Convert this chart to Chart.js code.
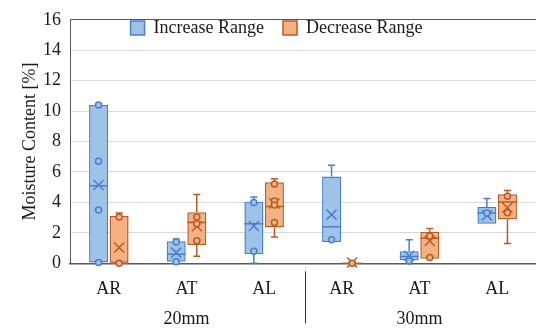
<!DOCTYPE html>
<html>
<head>
<meta charset="utf-8">
<script src="https://cdn.jsdelivr.net/npm/chart.js@4/dist/chart.umd.min.js"></script>
<style>
  html, body { margin: 0; padding: 0; background: #fff; }
  canvas { display: block; }
</style>
</head>
<body>
<canvas id="boxChart" width="536" height="328"></canvas>
<script>
// Categories and groups
const categories = ["AR", "AT", "AL", "AR", "AT", "AL"];
const groups = ["20mm", "30mm"];

// Increase range statistics per category
const incMin    = [0.05, 0.1, 0.0, 1.4, 0.15, 2.6];
const incQ1     = [0.05, 0.1, 0.6, 1.4, 0.2, 2.6];
const incMedian = [5.1, 0.6, 2.6, 2.4, 0.45, 3.3];
const incQ3     = [10.4, 1.45, 4.05, 5.7, 0.8, 3.7];
const incMax    = [10.4, 1.6, 4.35, 6.45, 1.55, 4.26];
const incMean   = [5.15, 0.7, 2.45, 3.2, 0.5, 3.15];
const incPoints = [[10.4, 6.7, 3.5, 0.05], [1.4, 0.1], [4.0, 0.8], [1.55], [0.15], [3.3]];

// Decrease range statistics per category
const decMin    = [0.0, 0.47, 1.72, 0.0, 0.35, 1.3];
const decQ1     = [0.0, 1.2, 2.36, 0.0, 0.3, 2.9];
const decMedian = [0.0, 2.68, 3.73, 0.0, 1.65, 4.02];
const decQ3     = [3.1, 3.36, 5.32, 0.04, 2.08, 4.54];
const decMax    = [3.3, 4.52, 5.56, 0.1, 2.28, 4.78];
const decMean   = [1.04, 2.44, 3.93, 0.05, 1.46, 3.65];
const decPoints = [[3.05, 0.0], [3.05, 2.6, 1.48], [5.21, 4.1, 3.83, 2.68], [0.0], [1.8, 0.38], [4.4, 3.32]];

const serif = "'Liberation Serif', 'DejaVu Serif', serif";
const textColor = "#1a1a1a";
const axisColor = "#595959";

function makeDataset(label, q1, q3, stats, fill, stroke) {
  return {
    label: label,
    data: q1.map((v, i) => [v, q3[i]]),
    backgroundColor: fill,
    borderColor: stroke,
    borderWidth: 1.5,
    borderSkipped: false,
    stats: stats,
  };
}

// Whiskers, medians, means and points on top of the floating bars
const boxExtras = {
  id: "boxExtras",
  afterDatasetsDraw(chart) {
    const ctx = chart.ctx;
    const y = chart.scales.y;
    chart.data.datasets.forEach((ds, di) => {
      const meta = chart.getDatasetMeta(di);
      const s = ds.stats;
      meta.data.forEach((bar, j) => {
        const cx = bar.x;
        const half = bar.width / 2;
        const yMin = y.getPixelForValue(s.min[j]);
        const yQ1 = y.getPixelForValue(s.q1[j]);
        const yQ3 = y.getPixelForValue(s.q3[j]);
        const yMax = y.getPixelForValue(s.max[j]);
        const yMed = y.getPixelForValue(s.median[j]);
        const yMean = y.getPixelForValue(s.mean[j]);
        ctx.save();
        ctx.strokeStyle = ds.borderColor;
        ctx.lineWidth = 1.5;
        ctx.beginPath();
        if (yMax < yQ3 - 0.5) {
          ctx.moveTo(cx, yQ3); ctx.lineTo(cx, yMax);
          ctx.moveTo(cx - 3.5, yMax); ctx.lineTo(cx + 3.5, yMax);
        }
        if (yMin > yQ1 + 0.5) {
          ctx.moveTo(cx, yQ1); ctx.lineTo(cx, yMin);
          ctx.moveTo(cx - 3.5, yMin); ctx.lineTo(cx + 3.5, yMin);
        }
        // median
        ctx.moveTo(cx - half, yMed); ctx.lineTo(cx + half, yMed);
        // mean marker
        ctx.moveTo(cx - 5, yMean - 5); ctx.lineTo(cx + 5, yMean + 5);
        ctx.moveTo(cx + 5, yMean - 5); ctx.lineTo(cx - 5, yMean + 5);
        ctx.stroke();
        // data points
        ctx.fillStyle = ds.backgroundColor;
        s.points[j].forEach(v => {
          ctx.beginPath();
          ctx.arc(cx, y.getPixelForValue(v), 3, 0, Math.PI * 2);
          ctx.fill();
          ctx.stroke();
        });
        ctx.restore();
      });
    });
  },
  afterDraw(chart) {
    // divider between the two groups
    const ctx = chart.ctx;
    const xs = chart.scales.x;
    const px = Math.round(xs.getPixelForValue(2.5)) + 2.5;
    const bottom = chart.chartArea.bottom;
    ctx.save();
    ctx.strokeStyle = "#333";
    ctx.lineWidth = 1;
    ctx.beginPath();
    ctx.moveTo(px, bottom + 8);
    ctx.lineTo(px, bottom + 60);
    ctx.stroke();
    ctx.restore();
  },
};

// Keep the legend inside the plot area: it takes little layout height,
// then its box is widened again so the items are drawn
const legendInside = {
  id: "legendInside",
  beforeInit(chart) {
    const fit = chart.legend.fit;
    chart.legend.fit = function () {
      fit.bind(chart.legend)();
      this.height = 13;
    };
  },
  afterLayout(chart) {
    const lg = chart.legend;
    lg.top = 0;
    lg.height = 50;
    lg.bottom = lg.top + 50;
  },
};

new Chart(document.getElementById("boxChart"), {
  type: "bar",
  data: {
    labels: categories,
    datasets: [
      makeDataset("Increase Range", incQ1, incQ3,
        { min: incMin, q1: incQ1, median: incMedian, q3: incQ3, max: incMax, mean: incMean, points: incPoints },
        "#9dc3e6", "#4a7fcf"),
      makeDataset("Decrease Range", decQ1, decQ3,
        { min: decMin, q1: decQ1, median: decMedian, q3: decQ3, max: decMax, mean: decMean, points: decPoints },
        "#f4b183", "#b85c22"),
    ],
  },
  options: {
    responsive: false,
    animation: false,
    devicePixelRatio: 1,
    categoryPercentage: 0.53,
    barPercentage: 0.92,
    layout: { padding: { left: 17, top: 0, right: 0, bottom: 0 } },
    plugins: {
      legend: {
        position: "top",
        labels: {
          color: textColor,
          font: { family: serif, size: 18 },
          boxWidth: 14,
          boxHeight: 14,
          padding: 19,
        },
      },
      tooltip: { enabled: false },
    },
    scales: {
      x: {
        offset: true,
        grid: { display: false, drawTicks: false },
        border: { display: true, color: axisColor, width: 1.5 },
        ticks: { color: textColor, font: { family: serif, size: 18 }, padding: 15 },
        afterFit: (s) => { s.height = 37; },
      },
      x2: {
        type: "category",
        labels: groups,
        position: "bottom",
        offset: true,
        grid: { display: false, drawTicks: false },
        border: { display: false },
        ticks: { color: textColor, font: { family: serif, size: 18 }, padding: 8 },
        afterFit: (s) => { s.height = 27.7; },
      },
      y: {
        min: 0,
        max: 16,
        ticks: { stepSize: 2, color: textColor, font: { family: serif, size: 18 }, padding: 9 },
        grid: {
          drawTicks: false,
          color: (c) => (c.tick && c.tick.value === 16 ? axisColor : "#d9d9d9"),
          lineWidth: 1,
        },
        border: { color: axisColor, width: 1 },
        title: {
          display: true,
          text: "Moisture Content [%]",
          color: textColor,
          font: { family: serif, size: 18 },
          padding: { top: 2, bottom: 0 },
        },
        afterFit: (s) => { s.width = 53; },
      },
    },
  },
  plugins: [boxExtras, legendInside],
});
</script>
</body>
</html>
